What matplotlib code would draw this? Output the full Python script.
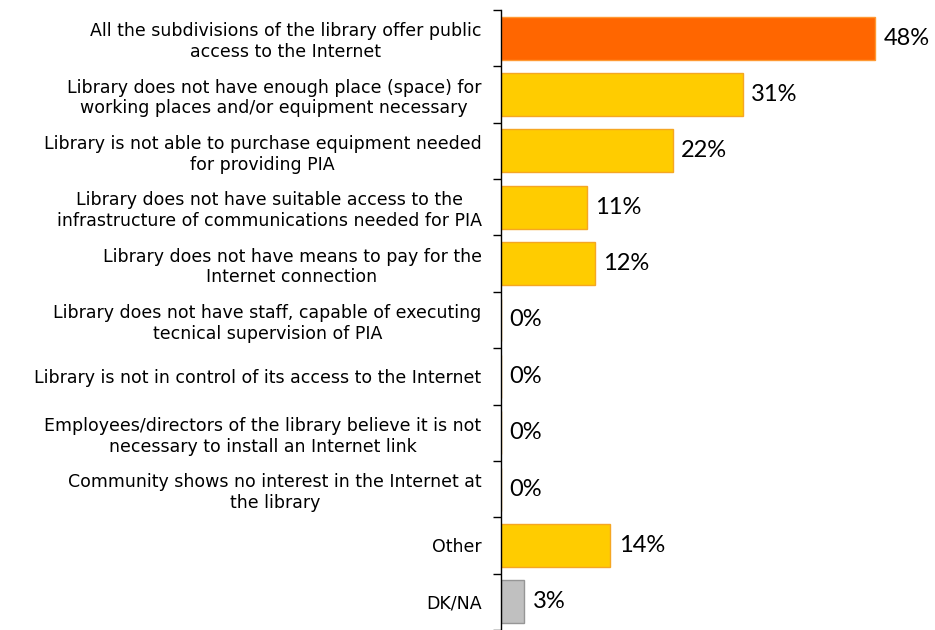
import numpy as np
import matplotlib
matplotlib.use("Agg")
import matplotlib.pyplot as plt

categories = [
    "All the subdivisions of the library offer public\naccess to the Internet",
    "Library does not have enough place (space) for\nworking places and/or equipment necessary",
    "Library is not able to purchase equipment needed\nfor providing PIA",
    "Library does not have suitable access to the\ninfrastructure of communications needed for PIA",
    "Library does not have means to pay for the\nInternet connection",
    "Library does not have staff, capable of executing\ntecnical supervision of PIA",
    "Library is not in control of its access to the Internet",
    "Employees/directors of the library believe it is not\nnecessary to install an Internet link",
    "Community shows no interest in the Internet at\nthe library",
    "Other",
    "DK/NA",
]
values = [48, 31, 22, 11, 12, 0, 0, 0, 0, 14, 3]
fills = ["#FF6600"] + ["#FFCC00"] * 9 + ["#C0C0C0"]
edges = ["#FF9933"] + ["#F5A623"] * 9 + ["#969696"]

fig = plt.figure(figsize=(9.35, 6.30), dpi=100)
ax = fig.add_axes([501 / 935, 0.0, 421 / 935, 620 / 630])

y = np.arange(len(categories))
ax.barh(y, values, height=0.76, color=fills, edgecolor=edges, linewidth=1)

for yi, v in zip(y, values):
    ax.text(v + 1.1, yi, f"{v}%", va="center", ha="left",
            fontsize=17, family="Lato", color="black")

ax.set_xlim(0, 54)
ax.set_ylim(len(categories) - 0.5, -0.5)

ax.set_yticks(y)
ax.set_yticklabels(categories, fontsize=12.5, multialignment="center",
                   family="DejaVu Sans", linespacing=1.2)
ax.set_yticks(np.arange(-0.5, len(categories)), minor=True)
ax.tick_params(axis="y", which="major", length=0, pad=14)
ax.tick_params(axis="y", which="minor", length=6, width=1, direction="out")
ax.set_xticks([])

for side in ["top", "right", "bottom"]:
    ax.spines[side].set_visible(False)
ax.spines["left"].set_linewidth(1)

fig.savefig("out.png", dpi=100)
